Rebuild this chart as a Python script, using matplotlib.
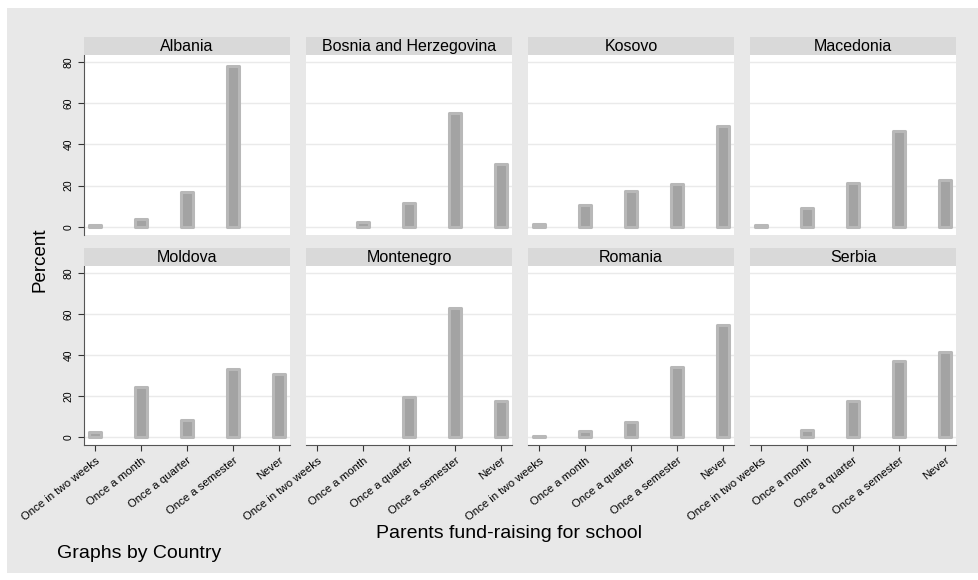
import numpy as np
import matplotlib
matplotlib.use('Agg')
import matplotlib.pyplot as plt
from matplotlib.patches import Rectangle

plt.rcParams['font.family'] = ['Liberation Sans', 'DejaVu Sans']

countries = ['Albania', 'Bosnia and Herzegovina', 'Kosovo', 'Macedonia',
             'Moldova', 'Montenegro', 'Romania', 'Serbia']
categories = ['Once in two weeks', 'Once a month', 'Once a quarter',
              'Once a semester', 'Never']

# percent per category, np.nan where no bar is drawn
albania = [1.0, 4.0, 17.0, 78.0, np.nan]
bosnia = [np.nan, 2.6, 11.8, 55.0, 30.3]
kosovo = [1.6, 10.8, 17.6, 21.0, 49.0]
macedonia = [0.8, 9.0, 21.2, 46.5, 22.8]
moldova = [2.6, 24.5, 8.3, 33.0, 30.6]
montenegro = [np.nan, np.nan, 19.6, 62.6, 17.4]
romania = [0.4, 3.0, 7.4, 34.2, 54.6]
serbia = [np.nan, 3.3, 17.6, 37.1, 41.3]
values = [albania, bosnia, kosovo, macedonia, moldova, montenegro, romania, serbia]

W, H = 979, 580
fig = plt.figure(figsize=(W / 100, H / 100), dpi=100)
fig.patch.set_facecolor('white')
# gray graph region with a thin white border left/top/bottom
fig.patches.append(Rectangle((7 / W, 7 / H), 1 - 7 / W, 1 - 15 / H,
                             transform=fig.transFigure, facecolor='#e8e8e8',
                             edgecolor='none', zorder=-10))

col_x = [84, 306, 528, 750]
pw = 206
rows = [(55, 235), (266, 445)]
strip_h = 18
x = np.arange(1, len(categories) + 1)

for i, (name, vals) in enumerate(zip(countries, values)):
	r, c = divmod(i, 4)
	top, bot = rows[r]
	ax = fig.add_axes([col_x[c] / W, 1 - bot / H, pw / W, (bot - top) / H])
	ax.set_facecolor('white')
	ax.set_xlim(0.76, 5.24)
	ax.set_ylim(-3.9, 83.3)
	ax.set_yticks([0, 20, 40, 60, 80])
	for yv in [0, 20, 40, 60, 80]:
		ax.axhline(yv, color='#eaeaea', lw=1.0, zorder=0)
	v = np.array(vals, dtype=float)
	m = ~np.isnan(v)
	bars = ax.bar(x[m], v[m], width=0.27, color='#a3a3a3', edgecolor='#b8b8b8',
	              linewidth=2.2, zorder=2)
	for b in bars:
		b.set_joinstyle('round')
	for s in ['top', 'right']:
		ax.spines[s].set_visible(False)
	ax.spines['left'].set_color('#555555')
	ax.spines['bottom'].set_color('#555555')
	ax.tick_params(axis='both', color='#333333', length=4, width=0.8)
	if c == 0:
		ax.set_yticklabels(['0', '20', '40', '60', '80'], fontsize=7.5,
		                   rotation=90, va='center')
	else:
		ax.spines['left'].set_visible(False)
		ax.tick_params(axis='y', left=False, labelleft=False)
	ax.set_xticks(x)
	if r == 1:
		ax.set_xticklabels(categories, fontsize=8.2, rotation=38, ha='right',
		                   rotation_mode='anchor')
	else:
		ax.spines['bottom'].set_visible(False)
		ax.tick_params(axis='x', bottom=False, labelbottom=False)

	sax = fig.add_axes([col_x[c] / W, 1 - top / H, pw / W, strip_h / H])
	sax.set_facecolor('#d9d9d9')
	sax.set_xticks([])
	sax.set_yticks([])
	for s in sax.spines.values():
		s.set_visible(False)
	sax.text(0.5, 0.45, name, ha='center', va='center', fontsize=11.5,
	         transform=sax.transAxes)

fig.text(40 / W, 1 - 260 / H, 'Percent', rotation=90, ha='center', va='center',
         fontsize=13.5)
fig.text(509 / W, 1 - 534 / H, 'Parents fund-raising for school', ha='center',
         va='center', fontsize=14)
fig.text(57 / W, 1 - 553 / H, 'Graphs by Country', ha='left', va='center',
         fontsize=14)

fig.savefig('out.png', dpi=100, facecolor=fig.get_facecolor())
